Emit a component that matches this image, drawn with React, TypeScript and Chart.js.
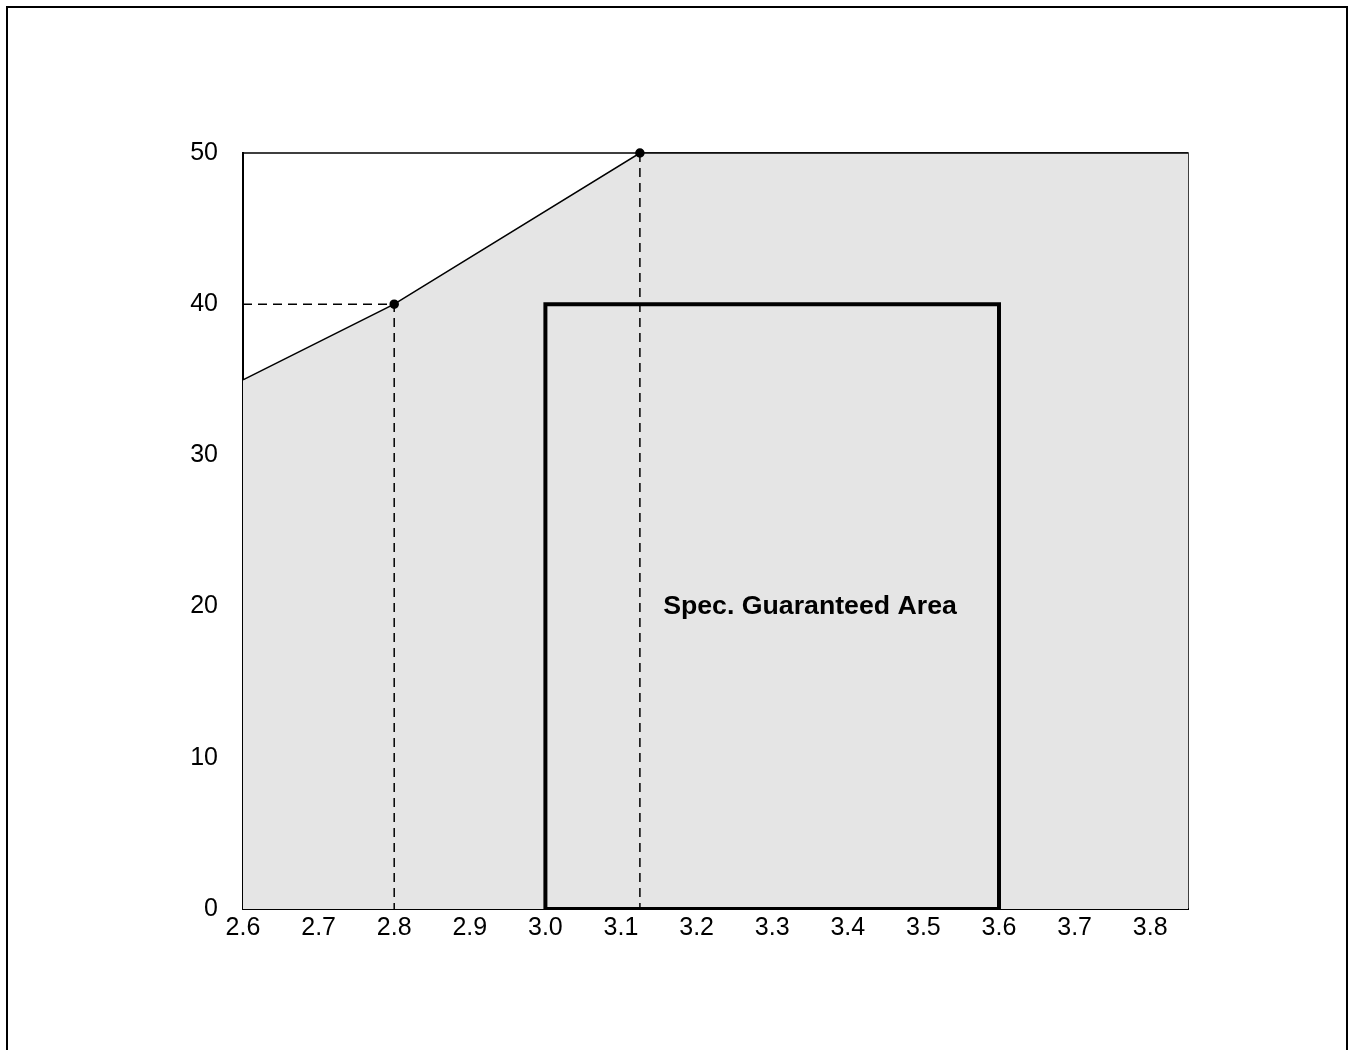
import React, { useEffect, useRef } from "react";
import { Chart, registerables } from "chart.js";

Chart.register(...registerables);

const xTicks = [2.6, 2.7, 2.8, 2.9, 3.0, 3.1, 3.2, 3.3, 3.4, 3.5, 3.6, 3.7, 3.8];
const yTicks = [0, 10, 20, 30, 40, 50];
const limitX = [2.6, 2.8, 3.125, 3.85];
const limitY = [35, 40, 50, 50];
const limitPointRadius = [0, 4, 4, 0];
const dash1X = [2.6, 2.8, 2.8];
const dash1Y = [40, 40, 0];
const dash2X = [3.125, 3.125];
const dash2Y = [50, 0];
const specX = [3.0, 3.0, 3.6, 3.6, 3.0];
const specY = [0, 40, 40, 0, 0];
const specLabel = "Spec. Guaranteed Area";
const specLabelPos = [3.35, 20];

const pts = (xs: number[], ys: number[]) => xs.map((x, i) => ({ x, y: ys[i] }));

export default function App() {
  const ref = useRef<HTMLCanvasElement | null>(null);
  useEffect(() => {
    document.body.style.margin = "0";
    const canvas = ref.current!;
    const framePlugin = {
      id: "frame",
      beforeDatasetsDraw(chart: any) {
        const { ctx, chartArea: a } = chart;
        ctx.save();
        ctx.strokeStyle = "#000";
        ctx.lineWidth = 1.5;
        ctx.strokeRect(a.left, a.top, a.right - a.left, a.bottom - a.top);
        ctx.restore();
      },
      afterDraw(chart: any) {
        const { ctx, scales } = chart;
        ctx.save();
        ctx.fillStyle = "#000";
        ctx.font = "bold 26.7px 'Liberation Sans', Arial, sans-serif";
        ctx.textAlign = "center";
        ctx.textBaseline = "middle";
        ctx.fillText(
          specLabel,
          scales.x.getPixelForValue(specLabelPos[0]),
          scales.y.getPixelForValue(specLabelPos[1])
        );
        ctx.strokeStyle = "#000";
        ctx.lineWidth = 2;
        ctx.strokeRect(7, 7, 1340, 1100);
        ctx.restore();
      },
    };
    const font = { family: "'Liberation Sans', Arial, sans-serif", size: 25 };
    const chart = new Chart(canvas, {
      type: "line",
      data: {
        datasets: [
          {
            data: pts(limitX, limitY),
            borderColor: "#000",
            borderWidth: 1.5,
            backgroundColor: "#e5e5e5",
            fill: "origin",
            pointRadius: limitPointRadius,
            pointBackgroundColor: "#000",
            pointBorderColor: "#000",
            tension: 0,
            clip: false,
            order: 3,
          },
          {
            data: pts(dash1X, dash1Y),
            borderColor: "#000",
            borderWidth: 1.5,
            borderDash: [9, 6],
            pointRadius: 0,
            fill: false,
            order: 2,
          },
          {
            data: pts(dash2X, dash2Y),
            borderColor: "#000",
            borderWidth: 1.5,
            borderDash: [9, 6],
            pointRadius: 0,
            fill: false,
            order: 2,
          },
          {
            data: pts(specX, specY),
            borderColor: "#000",
            borderWidth: 4,
            pointRadius: 0,
            fill: false,
            borderJoinStyle: "miter",
            order: 1,
          },
        ] as any,
      },
      options: {
        animation: false,
        responsive: false,
        devicePixelRatio: 1,
        layout: { padding: { left: 183, right: 161, top: 153, bottom: 101 } },
        plugins: { legend: { display: false }, tooltip: { enabled: false } },
        scales: {
          x: {
            type: "linear",
            min: 2.6,
            max: 3.85,
            afterFit: (s: any) => { s.height = 40; },
            afterBuildTicks: (s: any) => { s.ticks = xTicks.map((v) => ({ value: v })); },
            ticks: {
              color: "#000",
              font,
              padding: 4,
              maxRotation: 0,
              autoSkip: false,
              callback: (v: any) => Number(v).toFixed(1),
            },
            grid: { display: false, drawTicks: false },
            border: { display: true, color: "#000", width: 2 },
          },
          y: {
            type: "linear",
            min: 0,
            max: 50,
            afterFit: (s: any) => { s.width = 60; },
            afterBuildTicks: (s: any) => { s.ticks = yTicks.map((v) => ({ value: v })); },
            ticks: { color: "#000", font, padding: 25, autoSkip: false },
            grid: { display: false, drawTicks: false },
            border: { display: true, color: "#000", width: 2 },
          },
        },
      } as any,
      plugins: [framePlugin],
    });
    return () => chart.destroy();
  }, []);
  return <canvas ref={ref} width={1349} height={1050} style={{ display: "block" }} />;
}
